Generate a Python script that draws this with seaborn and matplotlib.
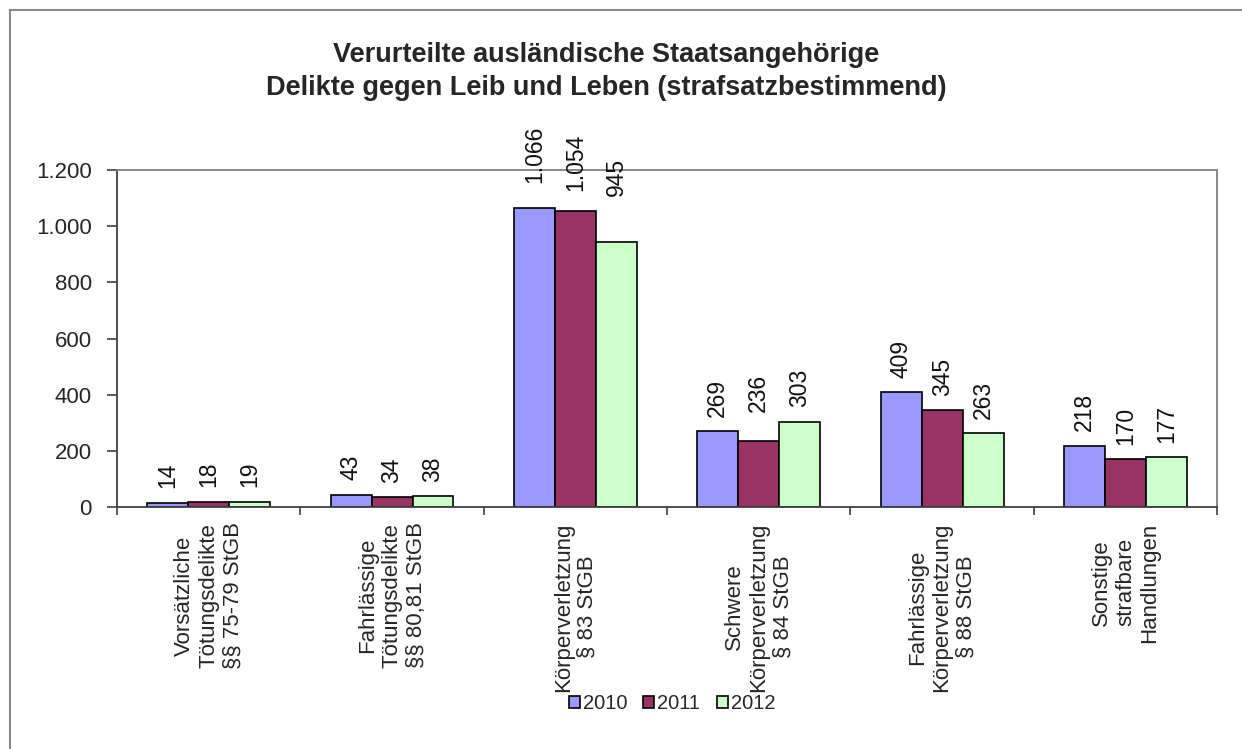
import pandas as pd
import matplotlib
matplotlib.use("Agg")
import matplotlib.pyplot as plt
from matplotlib.patches import Patch, Rectangle
from matplotlib.ticker import FixedLocator, FuncFormatter
import seaborn as sns

# Daten aus der Grafik
kategorien = [
    "Vorsätzliche\nTötungsdelikte\n§§ 75-79 StGB",
    "Fahrlässige\nTötungsdelikte\n§§ 80,81 StGB",
    "Körperverletzung\n§ 83 StGB",
    "Schwere\nKörperverletzung\n§ 84 StGB",
    "Fahrlässige\nKörperverletzung\n§ 88 StGB",
    "Sonstige\nstrafbare\nHandlungen",
]
jahre = ["2010", "2011", "2012"]
werte_2010 = [14, 43, 1066, 269, 409, 218]
werte_2011 = [18, 34, 1054, 236, 345, 170]
werte_2012 = [19, 38, 945, 303, 263, 177]
y_ticks = [0, 200, 400, 600, 800, 1000, 1200]

farben = ["#9999FF", "#993366", "#CCFFCC"]

df = pd.DataFrame({
    "Kategorie": kategorien * 3,
    "Jahr": [j for j in jahre for _ in kategorien],
    "Anzahl": werte_2010 + werte_2011 + werte_2012,
})


def de_format(v):
    return f"{v:,.0f}".replace(",", ".")


sns.set_theme(style="white")
plt.rcParams["font.family"] = ["Liberation Sans", "DejaVu Sans"]

fig = plt.figure(figsize=(12.42, 7.49), dpi=100)
ax = fig.add_axes([0.0942, 0.3231, 0.8858, 0.4499])

sns.barplot(data=df, x="Kategorie", y="Anzahl", hue="Jahr", order=kategorien,
            hue_order=jahre, palette=farben, width=0.67, edgecolor="black",
            linewidth=1.2, saturation=1, errorbar=None, legend=False, ax=ax)

# Datenbeschriftungen (senkrecht ueber den Balken)
extra_abstand = {(2, 0): 7, (2, 1): 4, (2, 2): 22, (3, 1): 10}
for j, cont in enumerate(ax.containers):
    for i, bar in enumerate(cont):
        h = bar.get_height()
        pad = 10.5 + extra_abstand.get((i, j), 0)
        ax.annotate(de_format(h), xy=(bar.get_x() + bar.get_width() / 2, h),
                    xytext=(0, pad), textcoords="offset points",
                    rotation=90, ha="center", va="bottom", fontsize=16.5,
                    color="#111111")

ax.set_xlim(-0.5, len(kategorien) - 0.5)
ax.set_ylim(0, 1200)
ax.yaxis.set_major_locator(FixedLocator(y_ticks))
ax.yaxis.set_major_formatter(FuncFormatter(lambda v, p: de_format(v)))

ax.set_xticks(range(len(kategorien)))
ax.set_xticklabels(kategorien, rotation=90, va="top", ha="center",
                   multialignment="center", fontsize=16)
ax.set_xticks([k - 0.5 for k in range(len(kategorien) + 1)], minor=True)
ax.tick_params(axis="x", which="major", length=0, pad=11)
ax.tick_params(axis="x", which="minor", length=6, width=1.2,
               direction="out", color="#404040", bottom=True)
ax.tick_params(axis="y", which="major", length=7, width=1.2,
               direction="out", color="#404040", left=True, pad=11,
               labelsize=16)
ax.set_xlabel("")
ax.set_ylabel("")

for s in ["left", "bottom"]:
    ax.spines[s].set_color("#404040")
    ax.spines[s].set_linewidth(1.3)
for s in ["top", "right"]:
    ax.spines[s].set_color("#808080")
    ax.spines[s].set_linewidth(1.3)

fig.text(0.488, 0.927, "Verurteilte ausländische Staatsangehörige",
         ha="center", va="center", fontsize=19.5, fontweight="bold")
fig.text(0.488, 0.883, "Delikte gegen Leib und Leben (strafsatzbestimmend)",
         ha="center", va="center", fontsize=19.5, fontweight="bold")

handles = [Patch(facecolor=c, edgecolor="black", linewidth=1.2, label=j)
           for c, j in zip(farben, jahre)]
fig.legend(handles=handles, loc="center", bbox_to_anchor=(0.541, 0.061),
           ncol=3, frameon=False, fontsize=14.5, handlelength=0.55,
           handleheight=0.55, handletextpad=0.15, columnspacing=0.8)

# Rahmen um das Diagramm
fig.patches.append(Rectangle((0.008, -0.1), 1.2, 1.087, transform=fig.transFigure,
                             fill=False, edgecolor="#888888", linewidth=1.5))

plt.savefig("out.png", dpi=100)
plt.close()
